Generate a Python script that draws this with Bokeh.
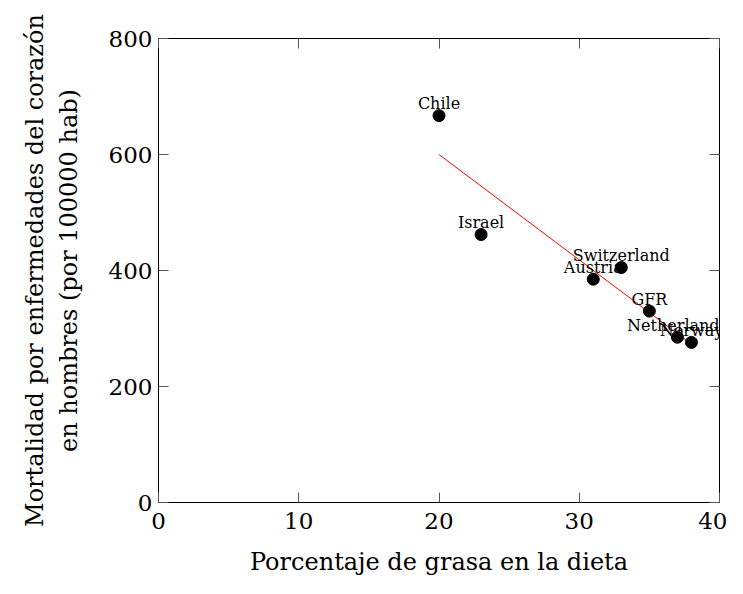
from bokeh.plotting import figure
from bokeh.models import LinearAxis, FixedTicker, ColumnDataSource, Range1d
from bokeh.core.properties import value
from bokeh.embed import file_html
from bokeh.resources import INLINE

# Data
countries = ["Chile", "Israel", "Austria", "Switzerland", "GFR", "Netherlands", "Norway"]
fat_pct = [20, 23, 31, 33, 35, 37, 38]
mortality = [667, 462, 385, 405, 330, 285, 276]
fit_x = [20, 38]
fit_y = [600, 273]
x_ticks = [0, 10, 20, 30, 40]
y_ticks = [0, 200, 400, 600, 800]

FONT = "DejaVu Serif"

p = figure(width=727, height=578, x_range=Range1d(0, 40), y_range=Range1d(0, 800),
           output_backend="svg", toolbar_location=None,
           min_border_left=158, min_border_right=8, min_border_top=38, min_border_bottom=74)
p.grid.visible = False
p.outline_line_color = "black"
p.outline_line_width = 1
p.outline_line_alpha = 1
p.background_fill_color = "white"
p.border_fill_color = "white"

def style_axis(ax, ticks, show_labels=True):
    ax.ticker = FixedTicker(ticks=ticks)
    ax.major_tick_in = 10
    ax.major_tick_out = 0
    ax.minor_tick_line_color = None
    ax.major_tick_line_color = "#555555"
    ax.major_tick_line_width = 1
    ax.axis_line_color = None
    ax.major_label_text_font = FONT
    if show_labels:
        ax.major_label_text_font_size = "23px"
        ax.major_label_text_color = "black"
    else:
        ax.major_label_text_font_size = "8px"
        ax.major_label_text_color = None
        ax.major_label_standoff = 0

style_axis(p.xaxis[0], x_ticks)
style_axis(p.yaxis[0], y_ticks)
p.xaxis[0].major_label_standoff = 10
p.yaxis[0].major_label_standoff = 6
p.xaxis[0].axis_label = "Porcentaje de grasa en la dieta"
p.yaxis[0].axis_label = "Mortalidad por enfermedades del corazón\nen hombres (por 100000 hab)"
for ax in (p.xaxis[0], p.yaxis[0]):
    ax.axis_label_text_font = FONT
    ax.axis_label_text_font_size = "24px"
    ax.axis_label_text_font_style = "normal"
    ax.axis_label_text_color = "black"
p.xaxis[0].axis_label_standoff = 16
p.yaxis[0].axis_label_standoff = 23

top = LinearAxis()
style_axis(top, x_ticks, show_labels=False)
p.add_layout(top, "above")
right = LinearAxis()
style_axis(right, y_ticks, show_labels=False)
p.add_layout(right, "right")

src = ColumnDataSource(data=dict(x=fat_pct, y=mortality, name=countries))

p.line(fit_x, fit_y, line_color="red", line_width=1)
p.text(x="x", y="y", text="name", source=src, text_font=value(FONT), text_font_size="16px",
       text_align="center", text_baseline="alphabetic", y_offset=-12, text_color="black")
p.scatter(x="x", y="y", source=src, size=12, fill_color="black", line_color="black")

open("out.html", "w").write(file_html(p, INLINE))
